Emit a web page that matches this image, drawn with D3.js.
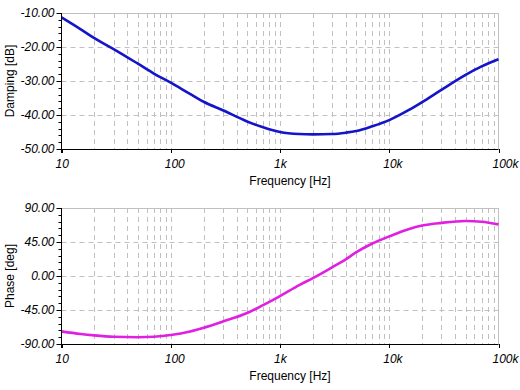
<!DOCTYPE html>
<html><head><meta charset="utf-8">
<script src="https://cdn.jsdelivr.net/npm/d3@7"></script>
<style>
body{margin:0;background:#fff;}
text{font-family:"Liberation Sans",Arial,sans-serif;}
</style></head>
<body><svg id="c" width="520" height="390"></svg>
<script>
const freqs = [10,15,20,30,50,70,100,150,200,300,500,700,1000,1500,2000,3000,4000,5000,7000,10000,15000,20000,30000,50000,70000,100000];
const damping = [-11.3,-14.8,-17.4,-20.6,-24.9,-27.8,-30.5,-33.8,-36.1,-38.6,-41.9,-43.6,-45.0,-45.6,-45.7,-45.6,-45.2,-44.7,-43.3,-41.5,-38.6,-36.2,-32.6,-28.2,-25.7,-23.6];
const phase = [-73.3,-76.8,-78.6,-80.4,-81.0,-80.4,-78.2,-73.5,-68.5,-60.2,-49.0,-38.5,-26.5,-12.0,-2.8,11.5,22.0,31.5,43.0,52.4,62.0,66.8,70.3,72.8,71.9,68.3];
const xTickVals = [10,100,1000,10000,100000];
const xTickLabels = ["10","100","1k","10k","100k"];
const dampTicks = [-10,-20,-30,-40,-50];
const phaseTicks = [90,45,0,-45,-90];

const svg = d3.select("#c");
const x = d3.scaleLog().domain([10,100000]).range([61.5,498.5]);
const minorX = [];
for (let d=10; d<100000; d*=10) for (let k=2;k<=9;k++) minorX.push(d*k);

function panel(top, bottom, yDomain, yTicks, minorStep, data, color, ytitle){
  const y = d3.scaleLinear().domain(yDomain).range([bottom, top]);
  const g = svg.append("g");
  // grid vertical
  g.selectAll(".vg").data(minorX.concat(xTickVals.slice(1,-1))).enter().append("line")
    .attr("x1",d=>Math.round(x(d))+0.5).attr("x2",d=>Math.round(x(d))+0.5)
    .attr("y1",top).attr("y2",bottom)
    .attr("stroke","#c0c0c0").attr("stroke-dasharray","5,4");
  // grid horizontal
  g.selectAll(".hg").data(yTicks.slice(1,-1)).enter().append("line")
    .attr("x1",x.range()[0]).attr("x2",x.range()[1])
    .attr("y1",d=>Math.round(y(d))+0.5).attr("y2",d=>Math.round(y(d))+0.5)
    .attr("stroke","#c0c0c0").attr("stroke-dasharray","5,4");
  // top & right border
  g.append("line").attr("x1",61.5).attr("x2",498.5).attr("y1",Math.round(top)+0.5).attr("y2",Math.round(top)+0.5).attr("stroke","#c0c0c0");
  g.append("line").attr("x1",498.5).attr("x2",498.5).attr("y1",top).attr("y2",bottom).attr("stroke","#c0c0c0");
  // line
  const line = d3.line().x((d,i)=>x(freqs[i])).y(d=>y(d)).curve(d3.curveMonotoneX);
  g.append("path").datum(data).attr("d",line).attr("fill","none").attr("stroke",color).attr("stroke-width",2.6);
  // y axis
  const yMinor = d3.range(yDomain[0], yDomain[1]+1e-9, minorStep);
  const ya = g.append("g").attr("transform","translate(61.5,0)");
  ya.selectAll(".mn").data(yMinor).enter().append("line")
    .attr("x1",-3).attr("x2",0).attr("y1",d=>Math.round(y(d))+0.5).attr("y2",d=>Math.round(y(d))+0.5).attr("stroke","#000");
  ya.selectAll(".mj").data(yTicks).enter().append("line")
    .attr("x1",-5).attr("x2",0).attr("y1",d=>Math.round(y(d))+0.5).attr("y2",d=>Math.round(y(d))+0.5).attr("stroke","#000");
  ya.selectAll("text").data(yTicks).enter().append("text")
    .attr("x",-7).attr("y",d=>y(d)).attr("dy","0.35em").attr("text-anchor","end")
    .attr("font-size",12).attr("font-style","italic").attr("fill","#000")
    .text(d=>d.toFixed(2));
  ya.append("line").attr("x1",0).attr("x2",0).attr("y1",top).attr("y2",bottom+4).attr("stroke","#000");
  // x axis
  const xa = g.append("g");
  xa.append("line").attr("x1",61).attr("x2",498.5).attr("y1",Math.round(bottom)+0.5).attr("y2",Math.round(bottom)+0.5).attr("stroke","#000");
  xa.selectAll(".xt").data(xTickVals).enter().append("line")
    .attr("x1",d=>Math.round(x(d))+0.5).attr("x2",d=>Math.round(x(d))+0.5)
    .attr("y1",bottom).attr("y2",bottom+4).attr("stroke","#000");
  xa.selectAll("text").data(xTickVals).enter().append("text")
    .attr("x",d=>x(d)-6).attr("y",bottom+19).attr("text-anchor","start")
    .attr("font-size",12).attr("font-style","italic").attr("fill","#000")
    .text((d,i)=>xTickLabels[i]);
  g.append("text").attr("x",290).attr("y",bottom+36).attr("text-anchor","middle")
    .attr("font-size",12).attr("fill","#000").text("Frequency [Hz]");
  g.append("text").attr("transform",`translate(14,${(top+bottom)/2}) rotate(-90)`)
    .attr("text-anchor","middle").attr("font-size",12).attr("fill","#000").text(ytitle);
}
panel(13,149,[-50,-10],dampTicks,2,damping,"#1414c8","Damping [dB]");
panel(208,344,[-90,90],phaseTicks,9,phase,"#e020e0","Phase [deg]");
</script></body></html>
